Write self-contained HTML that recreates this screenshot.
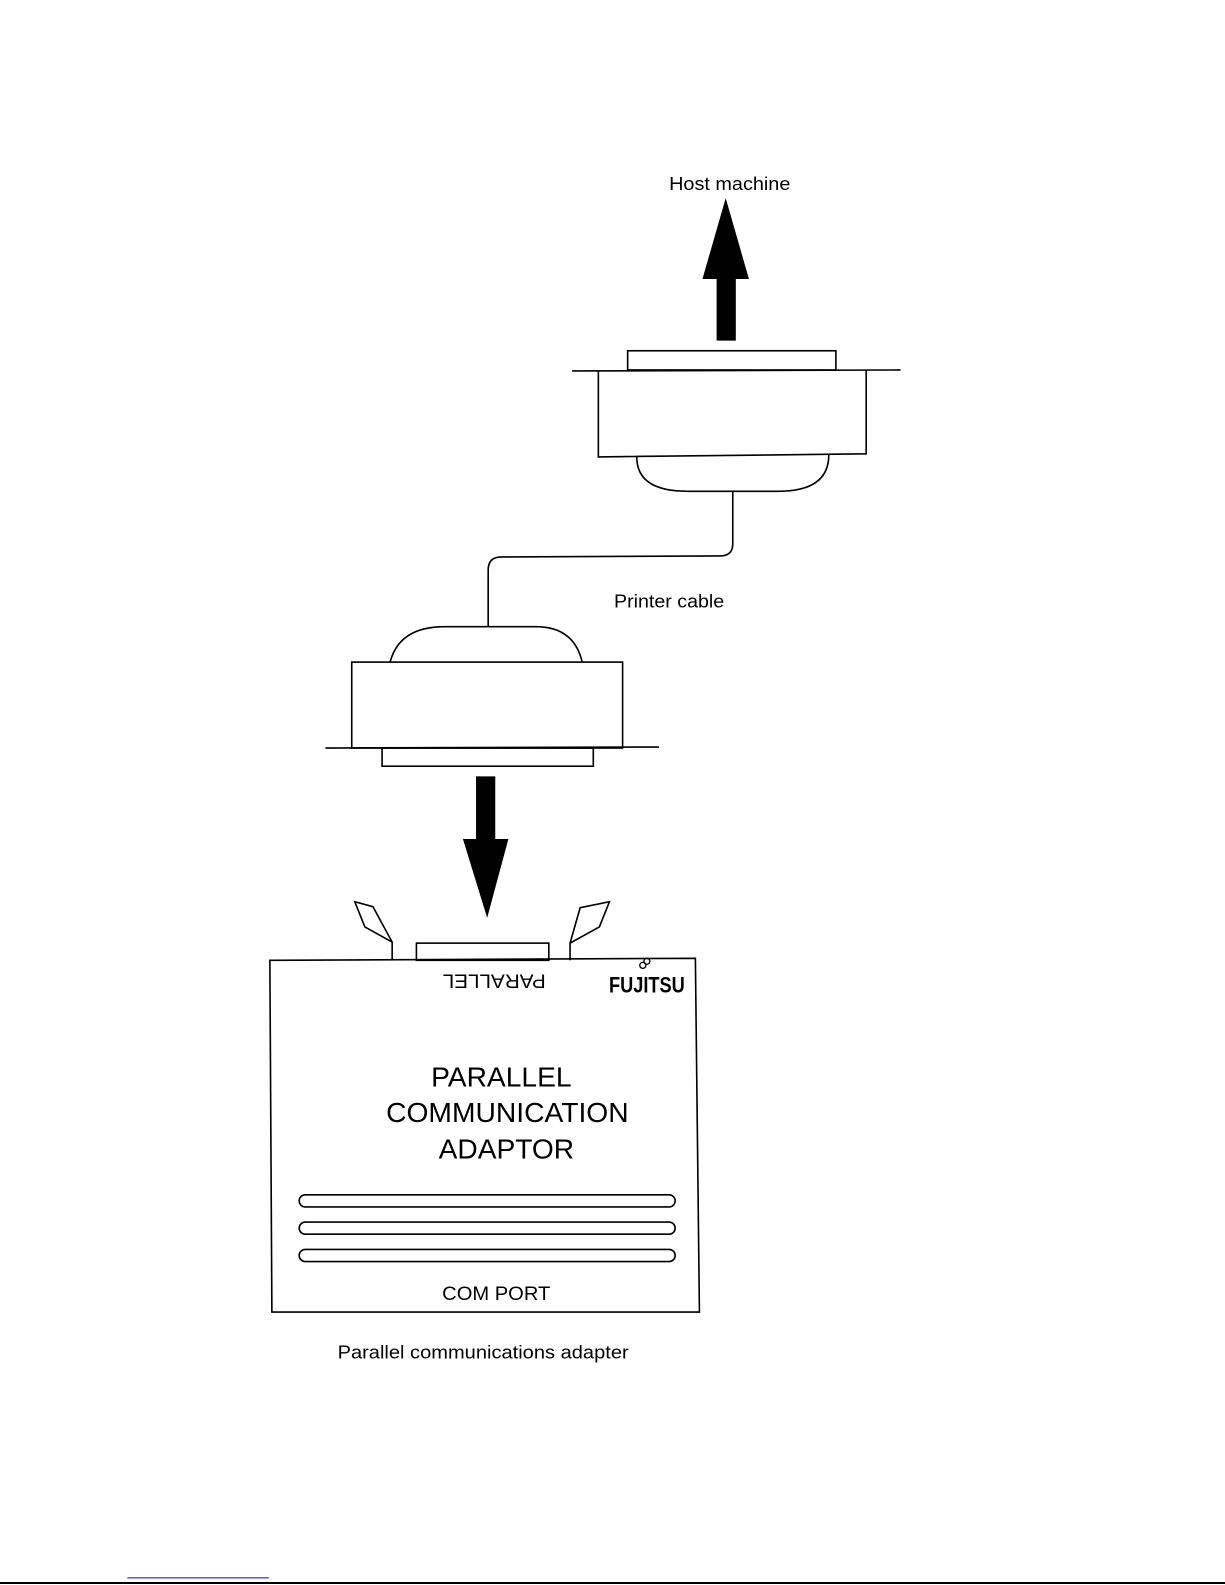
<!DOCTYPE html>
<html><head><meta charset="utf-8"><style>
html,body{margin:0;padding:0;background:#fff;}
svg{display:block;}
text{font-family:"Liberation Sans",Arial,sans-serif;fill:#000;}
</style></head><body>
<svg width="1225" height="1585" viewBox="0 0 1212 1568" preserveAspectRatio="none" xmlns="http://www.w3.org/2000/svg">
<g fill="none" stroke="#000" stroke-width="1.6">
<rect x="621" y="347" width="206" height="19"/>
<line x1="566" y1="367" x2="891" y2="366"/>
<path d="M592 367 L592 452 L857 449 L857 366"/>
<path d="M630 452 Q630 486 680 486 L770 486 Q820 486 820 450"/>
<path d="M725 486 L725 538 Q725 550 712 550 L496 551 Q483 551 483 564 L483 620"/>
<path d="M386 655 Q395 620 440 620 L530 620 Q568 620 576 655"/>
<rect x="348" y="655" width="268" height="85"/>
<line x1="322" y1="740" x2="652" y2="739"/>
<rect x="378" y="740" width="209" height="18"/>
<path d="M267 950 L688 948 L692 1298 L269 1298 Z"/>
<rect x="412" y="933" width="131" height="17"/>
<path d="M388 950 L388 932 L361 917 L351 892 L369 897 L388 932"/>
<path d="M564 950 L564 933 L593 917 L603 892 L574 898 L564 933"/>
<rect x="296" y="1182" width="372" height="12" rx="6"/>
<rect x="296" y="1209" width="372" height="12" rx="6"/>
<rect x="296" y="1236" width="372" height="12" rx="6"/>
</g>
<polygon points="718,196 741,276 728,276 728,337 709,337 709,276 695,276" fill="#000"/>
<polygon points="471,768 490,768 490,830 503,830 482,908 458,830 471,830" fill="#000"/>
<text x="722" y="188" font-size="18" text-anchor="middle" textLength="120" lengthAdjust="spacingAndGlyphs">Host machine</text>
<text x="662" y="601" font-size="18" text-anchor="middle" textLength="109" lengthAdjust="spacingAndGlyphs">Printer cable</text>
<text x="0" y="0" font-size="19" text-anchor="middle" transform="translate(489,964) rotate(180)" textLength="102" lengthAdjust="spacingAndGlyphs">PARALLEL</text>
<text x="640" y="982" font-size="22" font-weight="bold" text-anchor="middle" textLength="75" lengthAdjust="spacingAndGlyphs">FUJITSU</text>
<circle cx="636" cy="955" r="3" fill="none" stroke="#000" stroke-width="1.3"/>
<circle cx="640" cy="951" r="3" fill="none" stroke="#000" stroke-width="1.3"/>
<text x="496" y="1075" font-size="27" text-anchor="middle" textLength="139" lengthAdjust="spacingAndGlyphs">PARALLEL</text>
<text x="502" y="1110" font-size="27" text-anchor="middle" textLength="240" lengthAdjust="spacingAndGlyphs">COMMUNICATION</text>
<text x="501" y="1146" font-size="27" text-anchor="middle" textLength="134" lengthAdjust="spacingAndGlyphs">ADAPTOR</text>
<text x="491" y="1286" font-size="19" text-anchor="middle" textLength="107" lengthAdjust="spacingAndGlyphs">COM PORT</text>
<text x="478" y="1344" font-size="18" text-anchor="middle" textLength="288" lengthAdjust="spacingAndGlyphs">Parallel communications adapter</text>
<line x1="126" y1="1561" x2="266" y2="1561" stroke="#0000cc" stroke-width="1"/>
<line x1="0" y1="1566" x2="1212" y2="1566" stroke="#000" stroke-width="2"/>
</svg>
</body></html>
